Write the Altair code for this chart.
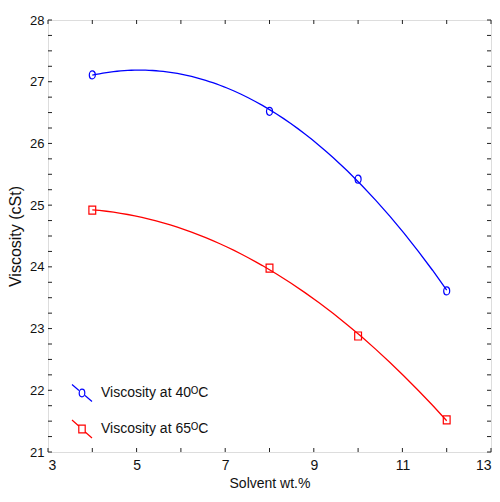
import altair as alt
import pandas as pd
import numpy as np

# Data
solvent = [4, 8, 10, 12]
visc_40 = [27.11, 26.52, 25.42, 23.61]
visc_65 = [24.92, 23.98, 22.88, 21.52]
series_names = ["Viscosity at 40\u1d3cC", "Viscosity at 65\u1d3cC"]
colors = ["#0000ff", "#ff0000"]

x_labels = [3, 5, 7, 9, 11, 13]
y_labels = [21, 22, 23, 24, 25, 26, 27, 28]
x_minor = list(range(3, 14))
y_minor = list(np.arange(21, 28.001, 0.25))

W, H = 443, 432
FONT = "Liberation Sans"

df = pd.DataFrame({
    "x": solvent * 2,
    "y": visc_40 + visc_65,
    "series": [series_names[0]] * 4 + [series_names[1]] * 4,
})

xscale = alt.Scale(domain=[3, 13], nice=False, zero=False)
yscale = alt.Scale(domain=[21, 28], nice=False, zero=False)
cscale = alt.Scale(domain=series_names, range=colors)

xaxis = alt.Axis(values=x_labels, ticks=False, domain=False, grid=False,
                 format="d", labelFont=FONT, labelFontSize=14, labelColor="#111",
                 labelPadding=6, title="Solvent wt.%", titleFont=FONT,
                 titleFontSize=14, titleFontWeight="normal", titleColor="#111",
                 titlePadding=4)
yaxis = alt.Axis(values=y_labels, ticks=False, domain=False, grid=False,
                 format="d", labelFont=FONT, labelFontSize=13, labelColor="#111",
                 labelPadding=4, title="Viscosity (cSt)",
                 titleFont=FONT, titleFontSize=16,
                 titleFontWeight="normal", titleColor="#111", titlePadding=6)

legend = alt.Legend(title=None, orient="none", legendX=23, legendY=362,
                    labelFont=FONT, labelFontSize=14, labelColor="#111",
                    symbolSize=400, symbolStrokeWidth=1.2, rowPadding=13,
                    labelOffset=8)

base = alt.Chart(df)

curves = base.transform_regression(
    "x", "y", groupby=["series"], method="poly", order=2, extent=[4, 12]
).mark_line(strokeWidth=1.3).encode(
    x=alt.X("x:Q", scale=xscale, axis=xaxis),
    y=alt.Y("y:Q", scale=yscale, axis=yaxis),
    color=alt.Color("series:N", scale=cscale, legend=legend),
)

circle_path = "M-0.75,0A0.75,1 0 1,0 0.75,0A0.75,1 0 1,0 -0.75,0Z"
square_path = "M-0.85,-1H0.85V1H-0.85Z"

pts40 = base.transform_filter(alt.datum.series == series_names[0]).mark_point(
    filled=False, strokeWidth=1.2, size=64, opacity=1, shape=circle_path
).encode(
    x=alt.X("x:Q", scale=xscale),
    y=alt.Y("y:Q", scale=yscale),
    color=alt.Color("series:N", scale=cscale, legend=legend),
)
pts65 = base.transform_filter(alt.datum.series == series_names[1]).mark_point(
    filled=False, strokeWidth=1.2, size=64, opacity=1, shape=square_path
).encode(
    x=alt.X("x:Q", scale=xscale),
    y=alt.Y("y:Q", scale=yscale),
    color=alt.Color("series:N", scale=cscale, legend=legend),
)

leg_circle = ("M-1,-0.85L-0.3,-0.25M0.3,0.25L1,0.85"
              "M-0.28,0A0.28,0.38 0 1,0 0.28,0A0.28,0.38 0 1,0 -0.28,0Z")
leg_square = ("M-1,-0.9L-0.32,-0.3M0.32,0.3L1,0.9"
              "M-0.32,-0.38H0.32V0.38H-0.32Z")

legend_layer = base.transform_filter("datum.x < 0").mark_point(
    filled=False, strokeWidth=1.2, opacity=1
).encode(
    x=alt.X("x:Q", scale=xscale),
    y=alt.Y("y:Q", scale=yscale),
    color=alt.Color("series:N", scale=cscale, legend=legend),
    shape=alt.Shape("series:N", scale=alt.Scale(domain=series_names,
                                                range=[leg_circle, leg_square]),
                    legend=legend),
)

# inward ticks
tick_y = pd.DataFrame({"v": y_minor})
tick_x = pd.DataFrame({"v": x_minor})
tl = 4
yt_left = alt.Chart(tick_y).mark_rule(color="#222", strokeWidth=1).encode(
    y=alt.Y("v:Q", scale=yscale), x=alt.value(0), x2=alt.value(tl))
yt_right = alt.Chart(tick_y).mark_rule(color="#222", strokeWidth=1).encode(
    y=alt.Y("v:Q", scale=yscale), x=alt.value(W - tl), x2=alt.value(W))
xt_bot = alt.Chart(tick_x).mark_rule(color="#222", strokeWidth=1).encode(
    x=alt.X("v:Q", scale=xscale), y=alt.value(H - tl), y2=alt.value(H))
xt_top = alt.Chart(tick_x).mark_rule(color="#222", strokeWidth=1).encode(
    x=alt.X("v:Q", scale=xscale), y=alt.value(0), y2=alt.value(tl))

chart = alt.layer(
    curves, pts40, pts65, legend_layer, yt_left, yt_right, xt_bot, xt_top
).properties(
    width=W, height=H,
    autosize=alt.AutoSizeParams(type="none"),
    padding={"left": 40, "top": 12, "right": 1, "bottom": 40},
).configure_view(stroke="#222", strokeWidth=1.5).configure(background="white")

chart.save("out.html", embed_options={"renderer": "svg", "actions": False})
